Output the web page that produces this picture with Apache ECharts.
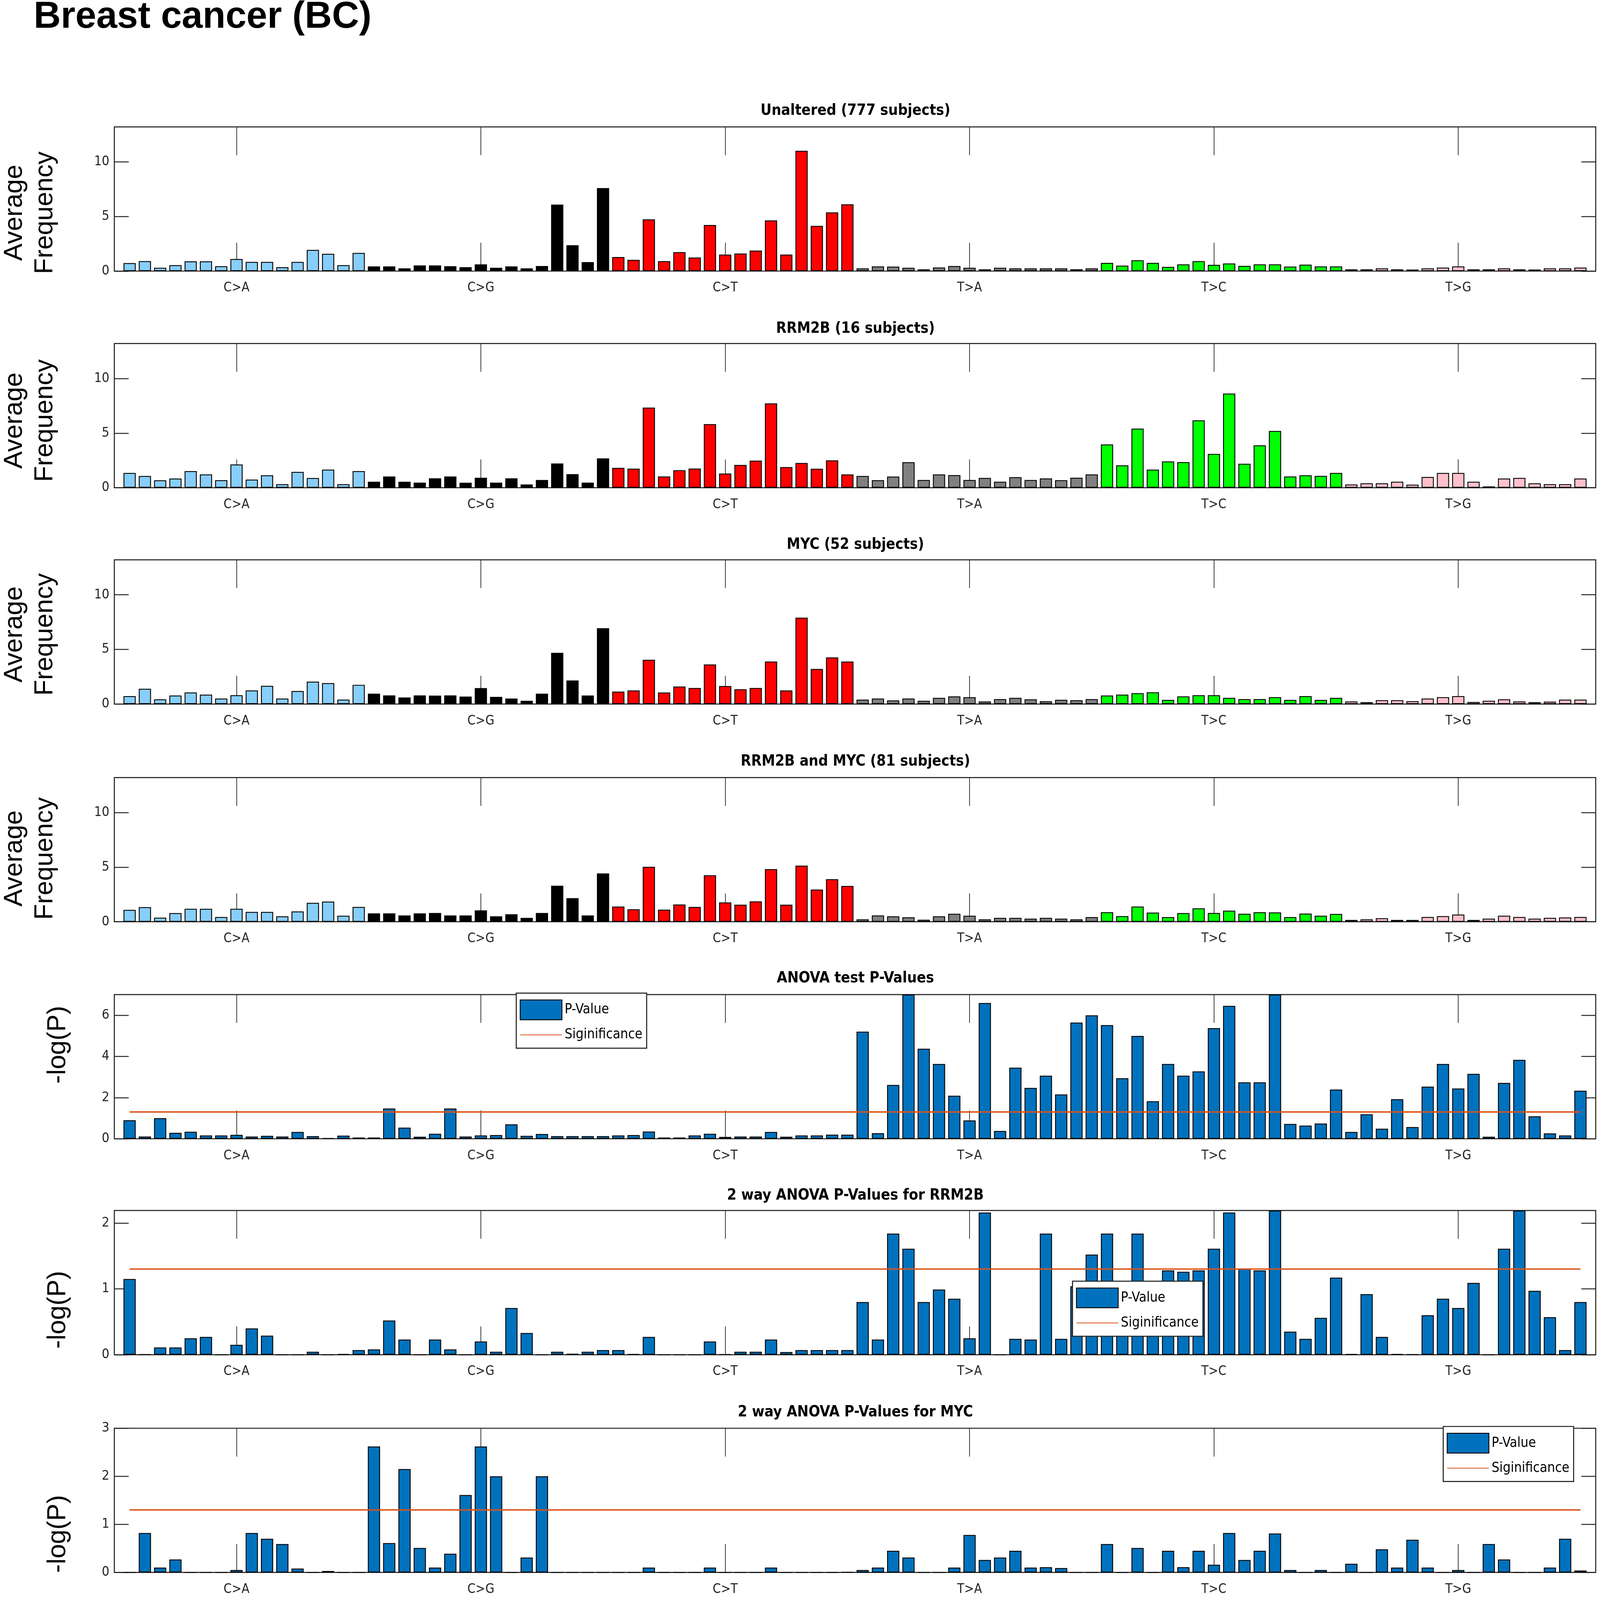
<!DOCTYPE html>
<html>
<head>
  <meta charset="utf-8">
  <title>Breast cancer (BC)</title>
  <script src="https://cdn.jsdelivr.net/npm/echarts@6/dist/echarts.min.js"></script>
  <style>
    html, body { margin: 0; padding: 0; overflow: hidden; background: #fff; }
    #main { width: 100vw; height: 100vh; }
  </style>
</head>
<body>
<div id="main"></div>
<script type="text/javascript">

  // mutation classes, 16 trinucleotide contexts each
  var groupLabels = ['C>A', 'C>G', 'C>T', 'T>A', 'T>C', 'T>G'];
  var groupTicks = [8, 24, 40, 56, 72, 88];

  var panelTitles = [
    'Unaltered (777 subjects)',
    'RRM2B (16 subjects)',
    'MYC (52 subjects)',
    'RRM2B and MYC (81 subjects)',
    'ANOVA test P-Values',
    '2 way ANOVA P-Values for RRM2B',
    '2 way ANOVA P-Values for MYC'
  ];

  // average frequency per context
  var unaltered = [0.73,0.91,0.30,0.54,0.89,0.89,0.45,1.11,0.84,0.84,0.36,0.84,1.94,1.58,0.54,1.66,
    0.43,0.43,0.25,0.52,0.52,0.45,0.36,0.62,0.30,0.43,0.25,0.46,6.09,2.37,0.82,7.60,
    1.29,1.03,4.74,0.91,1.73,1.24,4.22,1.51,1.61,1.88,4.64,1.51,11.01,4.14,5.37,6.11,
    0.25,0.43,0.41,0.30,0.16,0.33,0.46,0.30,0.16,0.30,0.25,0.25,0.25,0.25,0.17,0.25,
    0.75,0.50,0.99,0.75,0.38,0.62,0.91,0.57,0.70,0.47,0.62,0.62,0.41,0.59,0.43,0.43,
    0.16,0.16,0.25,0.16,0.14,0.25,0.32,0.43,0.16,0.16,0.25,0.16,0.14,0.25,0.25,0.32];

  var rrm2b = [1.35,1.08,0.68,0.84,1.52,1.22,0.69,2.13,0.75,1.14,0.33,1.45,0.89,1.66,0.33,1.52,
    0.55,1.03,0.55,0.47,0.86,1.03,0.46,0.92,0.47,0.86,0.30,0.71,2.22,1.25,0.47,2.69,
    1.82,1.75,7.33,1.03,1.60,1.76,5.82,1.30,2.09,2.48,7.72,1.89,2.27,1.74,2.51,1.22,
    1.08,0.69,1.02,2.34,0.71,1.22,1.16,0.71,0.90,0.55,0.97,0.71,0.85,0.69,0.92,1.22,
    3.96,2.05,5.41,1.66,2.41,2.35,6.17,3.10,8.62,2.19,3.88,5.20,1.03,1.14,1.09,1.35,
    0.30,0.41,0.41,0.55,0.28,0.99,1.35,1.35,0.55,0.12,0.84,0.90,0.41,0.33,0.33,0.84];

  var myc = [0.73,1.40,0.43,0.78,1.06,0.86,0.50,0.81,1.25,1.67,0.50,1.19,2.05,1.92,0.41,1.76,
    0.95,0.79,0.60,0.79,0.77,0.79,0.68,1.46,0.66,0.50,0.30,0.95,4.69,2.16,0.78,6.94,
    1.14,1.25,4.05,1.06,1.60,1.47,3.62,1.65,1.35,1.47,3.89,1.25,7.91,3.21,4.27,3.89,
    0.41,0.50,0.33,0.50,0.30,0.57,0.70,0.63,0.24,0.45,0.57,0.43,0.25,0.39,0.35,0.45,
    0.78,0.86,1.00,1.08,0.38,0.70,0.81,0.81,0.57,0.45,0.45,0.63,0.38,0.73,0.38,0.57,
    0.24,0.17,0.35,0.35,0.26,0.50,0.63,0.73,0.19,0.30,0.43,0.24,0.17,0.22,0.41,0.41];

  var rrm2bMyc = [1.09,1.34,0.37,0.79,1.19,1.19,0.44,1.19,0.90,0.90,0.50,0.95,1.73,1.85,0.55,1.36,
    0.77,0.77,0.58,0.77,0.80,0.58,0.58,1.04,0.50,0.69,0.36,0.80,3.30,2.16,0.58,4.42,
    1.39,1.14,5.03,1.11,1.58,1.36,4.25,1.77,1.56,1.87,4.82,1.56,5.14,2.95,3.90,3.28,
    0.22,0.58,0.50,0.41,0.19,0.50,0.73,0.55,0.22,0.36,0.36,0.28,0.36,0.28,0.22,0.43,
    0.87,0.52,1.39,0.84,0.43,0.79,1.23,0.80,1.02,0.73,0.87,0.86,0.43,0.75,0.55,0.71,
    0.17,0.22,0.32,0.17,0.17,0.44,0.52,0.66,0.17,0.28,0.55,0.44,0.28,0.36,0.39,0.44];

  // -log(P)
  var anovaP = [0.90,0.11,1.00,0.29,0.34,0.16,0.16,0.19,0.11,0.14,0.11,0.33,0.13,0.03,0.15,0.06,
    0.06,1.47,0.54,0.10,0.24,1.47,0.11,0.16,0.18,0.70,0.14,0.23,0.13,0.13,0.13,0.13,
    0.16,0.18,0.35,0.06,0.06,0.16,0.24,0.09,0.11,0.11,0.33,0.10,0.16,0.16,0.20,0.20,
    5.20,0.27,2.61,7.00,4.37,3.63,2.09,0.89,6.59,0.38,3.45,2.47,3.06,2.15,5.64,5.99,
    5.52,2.94,4.99,1.82,3.63,3.06,3.27,5.37,6.45,2.74,2.74,7.00,0.72,0.64,0.74,2.39,
    0.33,1.19,0.49,1.92,0.57,2.53,3.63,2.44,3.15,0.10,2.71,3.83,1.09,0.26,0.16,2.33];

  var rrm2bP = [1.15,0.005,0.11,0.11,0.25,0.27,0,0.15,0.40,0.29,0,0,0.045,0,0.01,0.07,
    0.08,0.52,0.23,0,0.23,0.08,0,0.20,0.045,0.71,0.33,0,0.045,0.015,0.045,0.07,
    0.07,0.01,0.27,0,0,0,0.20,0.005,0.045,0.045,0.23,0.04,0.07,0.07,0.07,0.07,
    0.80,0.23,1.84,1.61,0.80,0.99,0.85,0.25,2.16,0,0.24,0.23,1.84,0.24,1.04,1.52,
    1.84,0.60,1.84,0.70,1.28,1.26,1.28,1.61,2.16,1.31,1.28,2.19,0.35,0.24,0.56,1.17,
    0.01,0.92,0.27,0.01,0.005,0.60,0.85,0.71,1.09,0,1.61,2.19,0.97,0.57,0.07,0.80];

  var mycP = [0,0.82,0.10,0.27,0,0,0,0.05,0.82,0.70,0.59,0.08,0,0.03,0,0,
    2.62,0.61,2.15,0.51,0.10,0.39,1.61,2.62,2.00,0,0.31,2.00,0,0,0,0,
    0,0,0.10,0,0,0,0.10,0,0,0,0.10,0,0,0,0,0.01,
    0.05,0.10,0.45,0.31,0,0,0.10,0.78,0.26,0.31,0.45,0.10,0.11,0.09,0,0,
    0.59,0,0.51,0,0.45,0.11,0.45,0.16,0.82,0.26,0.45,0.81,0.05,0,0.05,0,
    0.18,0,0.48,0.10,0.68,0.10,0,0.05,0,0.59,0.27,0,0,0.10,0.70,0.04];

  var significance = 1.301;  // -log10(0.05)

  var panelData = [unaltered, rrm2b, myc, rrm2bMyc, anovaP, rrm2bP, mycP];
  var yMax = [13.2, 13.2, 13.2, 13.2, 7, 2.19, 3];
  var yTicks = [[0, 5, 10], [0, 5, 10], [0, 5, 10], [0, 5, 10], [0, 2, 4, 6], [0, 1, 2], [0, 1, 2, 3]];

  var groupColors = ['#87CEFA', '#000000', '#FF0000', '#808080', '#00FF00', '#FFC0CB'];
  var pBlue = '#0072BD';
  var sigOrange = '#D95319';
  var axisColor = '#262626';
  var narrow = "'Liberation Sans Narrow', 'DejaVu Sans Condensed', 'Arial Narrow', sans-serif";
  var arial = "'Liberation Sans', Arial, Helvetica, sans-serif";

  // layout measured on a 4562 x 4527 sheet, scaled to the real viewport
  var chartDom = document.getElementById('main');
  var sx = chartDom.clientWidth / 4562, sy = chartDom.clientHeight / 4527;
  function X(v) { return v * sx; }
  function Y(v) { return v * sy; }
  function F(v) { return v * sx; }

  var gridLeft = 326, gridRight = 10, gridH = 408;
  var xTickLen = 80;   // long x ticks, in sheet px
  var gridTops = [359, 972, 1584, 2200, 2814, 3425, 4041];
  var titleY = [318, 935, 1546, 2160, 2773, 3387, 4001];
  var nameY = [602, 1190, 1795, 2429, 2956, 3706, 4340];
  var legendPos = [[1472, 2810], [3058, 3625], [4115, 4036]];
  var barW = X((4562 - gridLeft - gridRight) / 97 * 0.8);

  var grids = [], xAxes = [], yAxes = [], series = [], titles = [], graphics = [], legends = [];

  titles.push({
    text: 'Breast cancer (BC)', left: X(96), top: Y(-4), padding: 0,
    textStyle: { fontFamily: arial, fontSize: F(107), fontWeight: 'bold', color: '#000' }
  });

  function yTick(i) {
    return { show: true, inside: true, length: X(41), customValues: yTicks[i].slice(),
      lineStyle: { color: axisColor, width: F(3) } };
  }
  function blankLabel(vals) {
    return { customValues: vals.slice(), color: 'rgba(0,0,0,0)', formatter: function () { return ''; } };
  }
  var noLine = { show: false, onZero: false };

  for (var i = 0; i < 7; i++) {
    grids.push({
      left: X(gridLeft), right: X(gridRight), top: Y(gridTops[i]), height: Y(gridH),
      show: true, borderColor: axisColor, borderWidth: F(3)
    });

    // bottom: labels only
    xAxes.push({
      gridIndex: i, type: 'value', position: 'bottom', min: 0, max: 97,
      axisLine: noLine, splitLine: { show: false },
      axisTick: { show: false },
      axisLabel: {
        customValues: groupTicks.slice(), margin: Y(30), fontSize: F(37), fontFamily: narrow, color: axisColor,
        formatter: function (v) { return groupLabels[groupTicks.indexOf(v)]; }
      }
    });
    // top ticks, pointing down into the box
    xAxes.push({
      gridIndex: i, type: 'value', position: 'top', min: 0, max: 97,
      axisLine: noLine, splitLine: { show: false },
      axisTick: { show: true, inside: true, length: Y(xTickLen), customValues: groupTicks.slice(),
        lineStyle: { color: axisColor, width: F(2) } },
      axisLabel: blankLabel(groupTicks)
    });

    yAxes.push({
      gridIndex: i, type: 'value', position: 'left', min: 0, max: yMax[i],
      axisLine: noLine, splitLine: { show: false },
      axisTick: yTick(i),
      axisLabel: { customValues: yTicks[i].slice(), margin: X(14), fontSize: F(38), fontFamily: narrow, color: axisColor }
    });
    yAxes.push({
      gridIndex: i, type: 'value', position: 'right', min: 0, max: yMax[i],
      axisLine: noLine, splitLine: { show: false },
      axisTick: yTick(i), axisLabel: blankLabel(yTicks[i])
    });

    titles.push({
      text: panelTitles[i], left: X(gridLeft + (4562 - gridLeft - gridRight) / 2), textAlign: 'center',
      top: Y(titleY[i] - 26), padding: 0,
      textStyle: { fontFamily: narrow, fontSize: F(43), fontWeight: 'bold', color: '#000' }
    });

    var isP = i >= 4;
    var vals = panelData[i];
    var tickTop = yMax[i] * xTickLen / gridH;   // bottom tick length in data units
    series.push({
      name: isP ? 'P-Value' : panelTitles[i],
      type: 'bar', xAxisIndex: 2 * i, yAxisIndex: 2 * i,
      barWidth: barW, clip: true,
      itemStyle: { color: pBlue, borderColor: '#000', borderWidth: F(2.5) },
      data: vals.map(function (v, k) {
        var item = { value: [k + 1, v] };
        if (!isP) item.itemStyle = { color: groupColors[Math.floor(k / 16)] };
        return item;
      }),
      // bottom x ticks, drawn under the bars
      markLine: {
        z: 1, silent: true, symbol: 'none', animation: false,
        label: { show: false },
        emphasis: { disabled: true },
        lineStyle: { color: axisColor, width: F(2), type: 'solid' },
        data: groupTicks.map(function (t) {
          return [{ coord: [t, 0] }, { coord: [t, tickTop] }];
        })
      }
    });

    if (isP) {
      series.push({
        name: 'Siginificance', type: 'line', xAxisIndex: 2 * i, yAxisIndex: 2 * i,
        symbol: 'none', lineStyle: { color: sigOrange, width: F(4) }, itemStyle: { color: sigOrange },
        z: 3,
        data: [[1, significance], [96, significance]]
      });
      var lp = legendPos[i - 4];
      legends.push({
        orient: 'vertical', left: X(lp[0]), top: Y(lp[1]),
        data: [
          { name: 'P-Value', icon: 'rect' },
          { name: 'Siginificance', itemStyle: { opacity: 0 } }
        ],
        itemWidth: X(119), itemHeight: Y(56), itemGap: Y(18),
        padding: [Y(18), X(12), Y(14), X(10)],
        backgroundColor: '#fff', borderColor: axisColor, borderWidth: F(3),
        itemStyle: { borderColor: '#000', borderWidth: F(2.5) },
        textStyle: { fontFamily: narrow, fontSize: F(39), color: '#000', padding: [0, 0, 0, X(2)] },
        selectedMode: false
      });
    }

    graphics.push({
      type: 'text', x: X(isP ? 166 : 85), y: Y(nameY[i]), rotation: Math.PI / 2,
      style: {
        text: isP ? '-log(P)' : 'Average\nFrequency',
        font: F(74) + 'px ' + arial, fill: '#000', lineHeight: F(87),
        textAlign: 'center', textVerticalAlign: 'middle'
      }
    });
  }

  var myChart = echarts.init(chartDom);
  myChart.setOption({
    animation: false,
    backgroundColor: '#fff',
    title: titles,
    grid: grids,
    xAxis: xAxes,
    yAxis: yAxes,
    legend: legends,
    series: series,
    graphic: graphics
  });

</script>
</body>
</html>
